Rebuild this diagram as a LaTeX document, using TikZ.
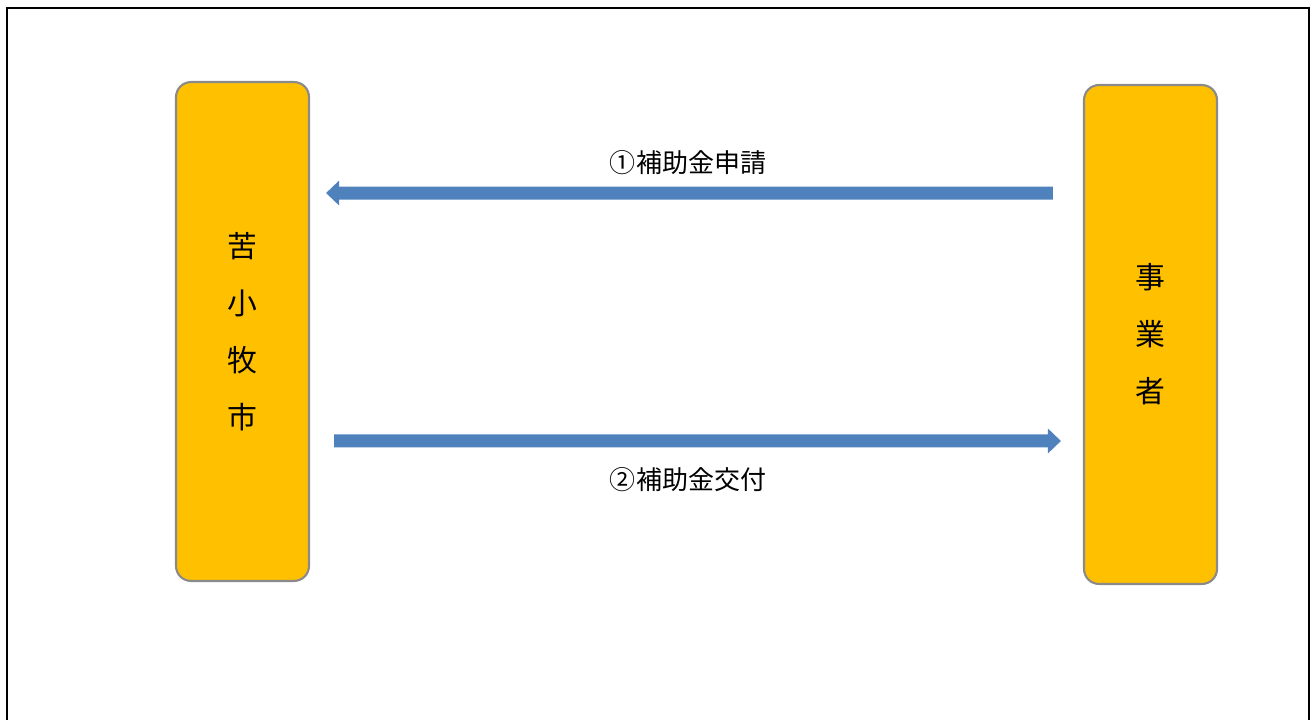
\documentclass[tikz,border=0pt]{standalone}
\usepackage{fontspec}
\setmainfont{Noto Sans CJK JP}
\usetikzlibrary{arrows.meta,positioning}
\definecolor{party}{HTML}{FFC000}
\definecolor{rim}{HTML}{8A8A8A}
\definecolor{flowblue}{HTML}{4F81BD}
\tikzset{
  every node/.style={text=black},
  box/.style={draw=rim,line width=1.2pt,rounded corners=0.3cm,fill=party,minimum width=2.66cm,minimum height=9.98cm,align=center,inner sep=0pt,font=\fontsize{17pt}{32.4pt}\selectfont},
  flow/.style={draw=flowblue,line width=7.4pt,-{Triangle[length=0.26cm,width=0.48cm]}},
  msg/.style={font=\fontsize{14.8pt}{18pt}\selectfont,inner sep=1pt},
}

\begin{document}
\begin{tikzpicture}[x=0.02cm,y=-0.02cm]
  \useasboundingbox (0,0) rectangle (1315,720);
  \clip (0,0) rectangle (1315,720);
  \draw[line width=1.2pt] (7,8) rectangle (1309,760);

  \node[box] (shi) at (242.5,331.5) {苦\\小\\牧\\市};
  \node[box] (jigyo) at (1150.5,334.5) {事\\業\\者};

  \draw[flow,shorten <=0.6cm,shorten >=0.32cm] ([yshift=2.83cm]jigyo.west) -- ([yshift=2.77cm]shi.east);
  \draw[flow,shorten <=0.48cm,shorten >=0.44cm] ([yshift=-2.19cm]shi.east) -- ([yshift=-2.13cm]jigyo.west);

  \node[msg] (apply) at (688,163) {①補助金申請};
  \node[msg] (grant) at (688,480) {②補助金交付};
\end{tikzpicture}
\end{document}
